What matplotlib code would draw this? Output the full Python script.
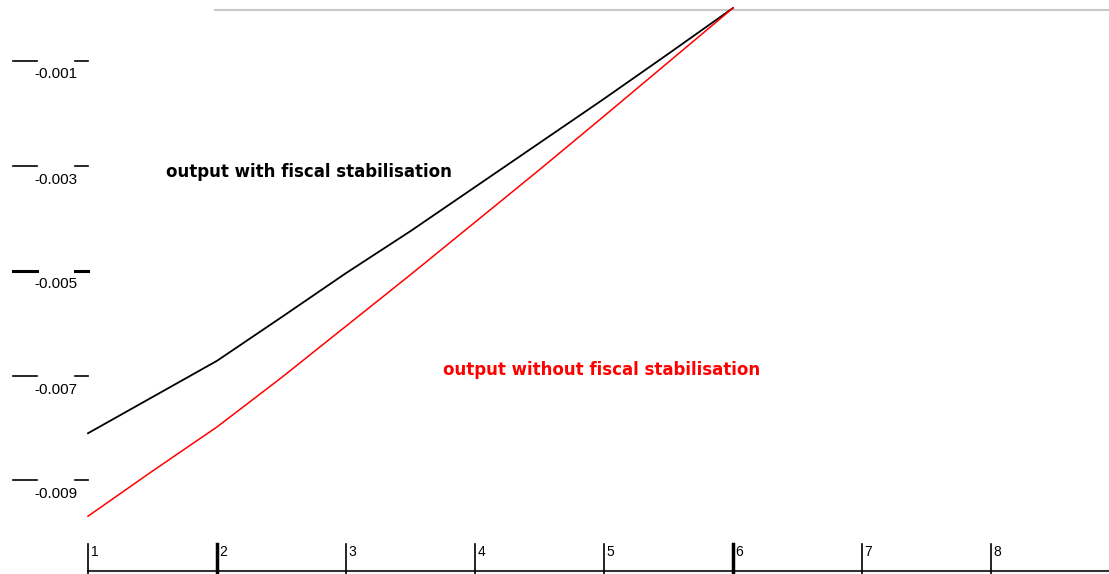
import matplotlib.pyplot as plt

# data
periods = [1, 1.5, 2, 2.5, 3, 3.5, 4, 4.5, 5, 5.5, 6]
with_fiscal = [-0.00810, -0.00741, -0.00672, -0.00589, -0.00505, -0.00425,
               -0.00341, -0.00257, -0.00173, -0.00087, 0.0]
without_fiscal = [-0.00968, -0.00882, -0.00798, -0.00704, -0.00606, -0.00508,
                  -0.00408, -0.00308, -0.00206, -0.00103, 0.0]
xticks = [1, 2, 3, 4, 5, 6, 7, 8]
yticks = [-0.001, -0.003, -0.005, -0.007, -0.009]

plt.rcParams['font.family'] = ['Liberation Sans Narrow', 'Liberation Sans', 'DejaVu Sans']

fig = plt.figure(figsize=(11.09, 5.74), dpi=100)
ax = fig.add_axes([0, 0, 1, 1])
ax.axis('off')

# pixel mapping: x=1 at px 88, 129 px per unit; y=0 at px 8, 52.5 px per 0.001
ax.set_xlim(1 - 88 / 129, 1 + (1109 - 88) / 129)
ax.set_ylim(-(574 - 8) / 52500, 8 / 52500)

def xp(px):
    return 1 + (px - 88) / 129

def yp(py):
    return -(py - 8) / 52500

# top grey line
ax.plot([xp(215), xp(1109)], [yp(10), yp(10)], color='#c8c8c8', lw=1.5)

# bottom axis
ax.plot([1, xp(1109)], [yp(571), yp(571)], color='#333333', lw=1.5, clip_on=False)
for t in xticks:
    w = 2.5 if t in (2, 6) else 1.2
    ax.plot([t, t], [yp(544), yp(574)], color='black', lw=w, clip_on=False)
    ax.text(t + 0.02, yp(552), str(t), fontsize=10, va='center', ha='left',
            family=['Liberation Sans', 'DejaVu Sans'])

# y ticks drawn like the original (dash, label, dash)
for v in yticks:
    w = 2.2 if v == -0.005 else 1.2
    ax.plot([xp(13), xp(37)], [v, v], color='black', lw=w, clip_on=False)
    ax.plot([xp(75), xp(88)], [v, v], color='black', lw=w, clip_on=False)
    ax.text(xp(56), v - 14 / 52500, '-%.3f' % -v, fontsize=11, ha='center', va='center')

ax.plot(periods, with_fiscal, color='black', lw=1.3)
ax.plot(periods, without_fiscal, color='red', lw=1.1)

ax.text(xp(166), yp(172), 'output with fiscal stabilisation', fontsize=12,
        fontweight='bold', color='black', va='center', ha='left',
        family=['DejaVu Sans'])
ax.text(xp(443), yp(370), 'output without fiscal stabilisation', fontsize=12,
        fontweight='bold', color='red', va='center', ha='left',
        family=['DejaVu Sans'])

fig.savefig('out.png', dpi=100)
